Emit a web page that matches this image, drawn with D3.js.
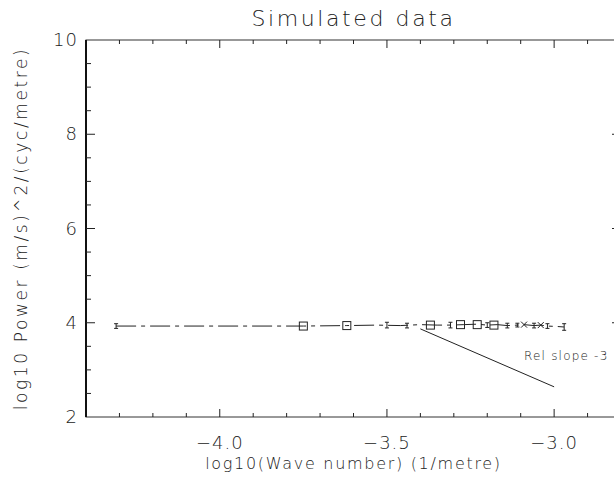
<!DOCTYPE html>
<html>
<head>
<meta charset="utf-8">
<script src="https://cdn.jsdelivr.net/npm/d3@7"></script>
<style>
  body { margin: 0; background: #fff; }
  text { font-family: "DejaVu Sans", sans-serif; font-weight: 200; fill: #222; }
</style>
</head>
<body>
<script>
// spectrum (dashed line)
const specX = [-4.31, -3.75, -3.62, -3.53, -3.46, -3.40, -3.35, -3.31, -3.27, -3.23, -3.20, -3.17, -3.14, -3.11, -3.09, -3.06, -3.04, -3.02, -2.99, -2.97]
const specY = [3.93, 3.93, 3.94, 3.95, 3.94, 3.96, 3.95, 3.95, 3.96, 3.97, 3.95, 3.96, 3.94, 3.95, 3.96, 3.94, 3.95, 3.93, 3.92, 3.91]

// binned points (squares)
const sqX = [-3.75, -3.62, -3.37, -3.28, -3.23, -3.18]
const sqY = [3.93, 3.94, 3.95, 3.96, 3.96, 3.95]

// error bars
const errX = [-4.31, -3.50, -3.44, -3.31, -3.20, -3.14, -3.11, -3.06, -3.02, -2.97]
const errY = [3.93, 3.95, 3.94, 3.95, 3.95, 3.94, 3.95, 3.94, 3.93, 3.91]
const errD = [0.05, 0.06, 0.05, 0.06, 0.05, 0.05, 0.04, 0.05, 0.05, 0.07]

// crosses
const crX = [-3.09, -3.04]
const crY = [3.96, 3.95]

// reference slope line
const slopeX = [-3.40, -3.00]
const slopeY = [3.87, 2.64]

const xTicks = [-4.0, -3.5, -3.0]
const yTicks = [2, 4, 6, 8, 10]

const W = 614, H = 486
const margin = { top: 40, right: -7, bottom: 69, left: 86 }

const svg = d3.select("body").append("svg")
    .attr("width", W)
    .attr("height", H)

const x = d3.scaleLinear().domain([-4.4, -2.8]).range([margin.left, W - margin.right])
const y = d3.scaleLinear().domain([2, 10]).range([H - margin.bottom, margin.top])

const x0 = x.range()[0], x1 = x.range()[1]
const y0 = y.range()[0], y1 = y.range()[1]

// cadre
svg.append("rect")
    .attr("x", x0).attr("y", y1)
    .attr("width", x1 - x0).attr("height", y0 - y1)
    .attr("fill", "none").attr("stroke", "#333").attr("stroke-width", 1)
svg.append("line")
    .attr("x1", x0).attr("x2", x0).attr("y1", y1).attr("y2", y0)
    .attr("stroke", "#111").attr("stroke-width", 2)

// ticks x (bas et haut), vers l'intérieur
const xMinor = d3.range(-4.3, -2.85, 0.1).map(v => Math.round(v * 10) / 10)
const tk = svg.append("g").attr("stroke", "#222").attr("stroke-width", 1)
xMinor.forEach(v => {
    const major = xTicks.some(t => Math.abs(t - v) < 1e-6)
    const len = major ? 8 : 4
    tk.append("line").attr("x1", x(v)).attr("x2", x(v)).attr("y1", y0).attr("y2", y0 - len)
    tk.append("line").attr("x1", x(v)).attr("x2", x(v)).attr("y1", y1).attr("y2", y1 + len)
})
const yMinor = d3.range(2.5, 10, 0.5)
yMinor.forEach(v => {
    const major = yTicks.includes(v)
    const len = major ? 9 : 5
    tk.append("line").attr("x1", x0).attr("x2", x0 + len).attr("y1", y(v)).attr("y2", y(v))
    tk.append("line").attr("x1", x1).attr("x2", x1 - len).attr("y1", y(v)).attr("y2", y(v))
})

// labels des ticks
svg.append("g").selectAll("text").data(xTicks).join("text")
    .attr("x", d => x(d)).attr("y", y0 + 32)
    .attr("text-anchor", "middle")
    .attr("font-size", 18)
    .attr("letter-spacing", 1)
    .text(d => "\u2212" + Math.abs(d).toFixed(1))

svg.append("g").selectAll("text").data(yTicks).join("text")
    .attr("x", x0 - 8).attr("y", d => y(d) + 6)
    .attr("text-anchor", "end")
    .attr("font-size", 18)
    .attr("letter-spacing", 1)
    .text(d => d)

// titres
svg.append("text")
    .attr("x", (x0 + x1) / 2).attr("y", 26)
    .attr("text-anchor", "middle")
    .attr("font-size", 22)
    .attr("letter-spacing", 2.6)
    .text("Simulated data")

svg.append("text")
    .attr("x", (x0 + x1) / 2).attr("y", y0 + 52)
    .attr("text-anchor", "middle")
    .attr("font-size", 16)
    .attr("letter-spacing", 1.7)
    .text("log10(Wave number) (1/metre)")

svg.append("text")
    .attr("transform", "translate(27," + ((y0 + y1) / 2) + ") rotate(-90)")
    .attr("text-anchor", "middle")
    .attr("font-size", 17)
    .attr("letter-spacing", 2.6)
    .text("log10 Power (m/s)^2/(cyc/metre)")

// courbe
const spec = specX.map((v, i) => [v, specY[i]])
svg.append("path")
    .datum(spec)
    .attr("fill", "none")
    .attr("stroke", "#222")
    .attr("stroke-width", 1)
    .attr("stroke-dasharray", "20,5,4,5")
    .attr("d", d3.line().x(d => x(d[0])).y(d => y(d[1])))

// carrés
svg.append("g").selectAll("rect").data(sqX).join("rect")
    .attr("x", (d, i) => x(d) - 4).attr("y", (d, i) => y(sqY[i]) - 4)
    .attr("width", 8).attr("height", 8)
    .attr("fill", "none").attr("stroke", "#222")

// barres d'erreur
const eb = svg.append("g").attr("stroke", "#222")
errX.forEach((v, i) => {
    const top = y(errY[i] + errD[i]), bot = y(errY[i] - errD[i])
    eb.append("line").attr("x1", x(v)).attr("x2", x(v)).attr("y1", top).attr("y2", bot)
    eb.append("line").attr("x1", x(v) - 2).attr("x2", x(v) + 2).attr("y1", top).attr("y2", top)
    eb.append("line").attr("x1", x(v) - 2).attr("x2", x(v) + 2).attr("y1", bot).attr("y2", bot)
})

// croix
crX.forEach((v, i) => {
    const cx = x(v), cy = y(crY[i])
    eb.append("path").attr("d", `M${cx - 3},${cy - 3}L${cx + 3},${cy + 3}M${cx - 3},${cy + 3}L${cx + 3},${cy - 3}`)
})

// pente de référence
svg.append("line")
    .attr("x1", x(slopeX[0])).attr("y1", y(slopeY[0]))
    .attr("x2", x(slopeX[1])).attr("y2", y(slopeY[1]))
    .attr("stroke", "#222")

svg.append("text")
    .attr("x", x(-3.09)).attr("y", y(3.22))
    .attr("font-size", 12)
    .attr("letter-spacing", 1.2)
    .text("Rel slope -3")
</script>
</body>
</html>
